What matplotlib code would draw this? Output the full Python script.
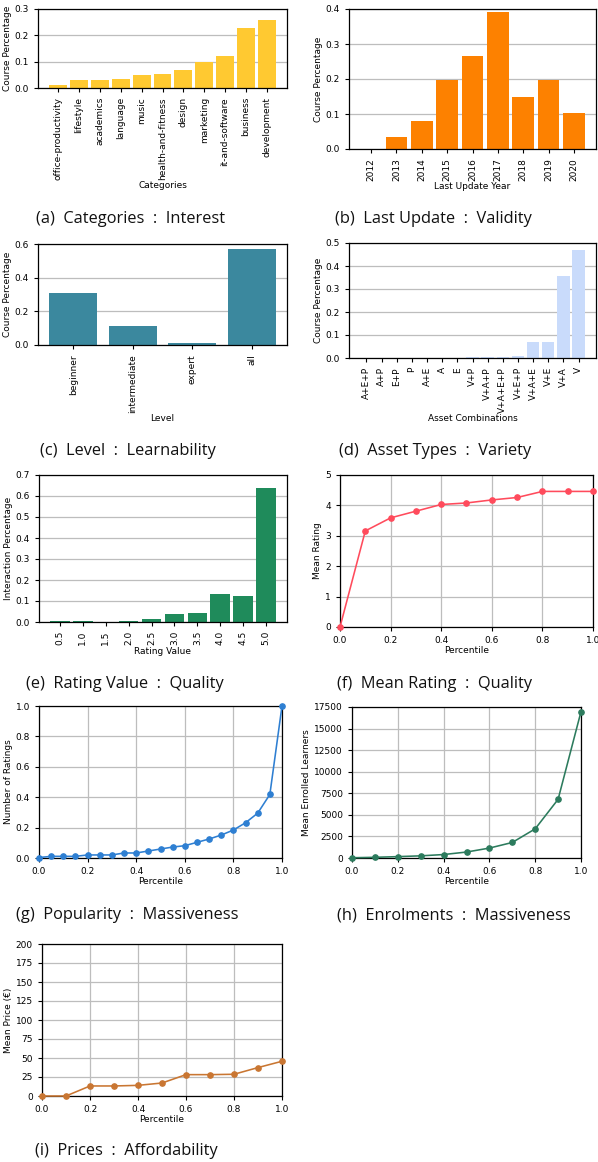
import numpy as np
import matplotlib
matplotlib.use("Agg")
import matplotlib.pyplot as plt

plt.rcParams["font.size"] = 6.5
plt.rcParams["axes.linewidth"] = 0.9
plt.rcParams["xtick.major.size"] = 3
plt.rcParams["ytick.major.size"] = 3
plt.rcParams["xtick.major.width"] = 0.8
plt.rcParams["ytick.major.width"] = 0.8
plt.rcParams["grid.color"] = "#bdbdbd"
plt.rcParams["grid.linewidth"] = 0.9

# (a) course categories
categories = ["office-productivity", "lifestyle", "academics", "language", "music",
              "health-and-fitness", "design", "marketing", "it-and-software",
              "business", "development"]
category_share = [0.013, 0.032, 0.032, 0.035, 0.051, 0.054, 0.070, 0.099, 0.123, 0.229, 0.259]

# (b) last update year
years = ["2012", "2013", "2014", "2015", "2016", "2017", "2018", "2019", "2020"]
year_share = [0.0, 0.033, 0.081, 0.198, 0.266, 0.391, 0.149, 0.198, 0.104]

# (c) level
levels = ["beginner", "intermediate", "expert", "all"]
level_share = [0.310, 0.114, 0.012, 0.570]

# (d) asset combinations
assets = ["A+E+P", "A+P", "E+P", "P", "A+E", "A", "E", "V+P", "V+A+P",
          "V+A+E+P", "V+E+P", "V+A+E", "V+E", "V+A", "V"]
asset_share = [0.0, 0.0, 0.0, 0.0005, 0.0005, 0.001, 0.001, 0.004, 0.004,
               0.005, 0.009, 0.070, 0.070, 0.358, 0.471]

# (e) rating values
ratings = ["0.5", "1.0", "1.5", "2.0", "2.5", "3.0", "3.5", "4.0", "4.5", "5.0"]
rating_share = [0.006, 0.006, 0.002, 0.006, 0.013, 0.037, 0.041, 0.132, 0.122, 0.638]

# (f) mean rating per percentile
pct10 = [0.0, 0.1, 0.2, 0.3, 0.4, 0.5, 0.6, 0.7, 0.8, 0.9, 1.0]
mean_rating = [0.0, 3.16, 3.59, 3.81, 4.03, 4.08, 4.18, 4.26, 4.46, 4.46, 4.46]

# (g) number of ratings (normalised) per percentile
pct20 = [0.0, 0.05, 0.1, 0.15, 0.2, 0.25, 0.3, 0.35, 0.4, 0.45, 0.5,
         0.55, 0.6, 0.65, 0.7, 0.75, 0.8, 0.85, 0.9, 0.95, 1.0]
num_ratings = [0.003, 0.011, 0.011, 0.011, 0.020, 0.020, 0.020, 0.033, 0.033, 0.046,
               0.059, 0.072, 0.081, 0.103, 0.125, 0.151, 0.184, 0.232, 0.295, 0.418, 1.0]

# (h) mean enrolled learners per percentile
enrolled = [30, 80, 160, 250, 400, 690, 1150, 1800, 3380, 6800, 16960]

# (i) mean price per percentile
price = [0.0, 0.0, 13.2, 13.2, 14.0, 17.1, 28.1, 28.1, 28.6, 37.4, 45.7]

W, H = 598, 1162
fig = plt.figure(figsize=(W / 100, H / 100), dpi=100)


def add_ax(left, top, right, bottom):
    return fig.add_axes([left / W, 1 - bottom / H, (right - left) / W, (bottom - top) / H])


def bar_panel(ax, labels, values, color, xlabel, ylabel, ymax, width=0.85):
    x = np.arange(len(labels))
    ax.bar(x, values, width=width, color=color, zorder=2)
    ax.set_xticks(x)
    ax.set_xticklabels(labels, rotation=90)
    ax.set_ylim(0, ymax)
    ax.yaxis.grid(True, zorder=0)
    ax.set_axisbelow(True)
    ax.set_xlabel(xlabel, labelpad=1)
    ax.set_ylabel(ylabel, labelpad=2)


def line_panel(ax, x, y, color, ylabel, ylim, yticks):
    ax.plot(x, y, color=color, marker="o", markersize=3.8, linewidth=1.15, zorder=3,
            clip_on=False)
    ax.set_xlim(0, 1)
    ax.set_ylim(*ylim)
    ax.set_yticks(yticks)
    ax.set_xticks([0, 0.2, 0.4, 0.6, 0.8, 1.0])
    ax.grid(True, zorder=0)
    ax.set_axisbelow(True)
    ax.set_xlabel("Percentile", labelpad=1)
    ax.set_ylabel(ylabel, labelpad=2)


ax = add_ax(38, 9, 287, 88)
bar_panel(ax, categories, category_share, "#FFC931", "Categories", "Course Percentage", 0.3)
ax.set_yticks([0.0, 0.1, 0.2, 0.3])

ax = add_ax(349, 9, 596, 149)
bar_panel(ax, years, year_share, "#FD8100", "Last Update Year", "Course Percentage", 0.4)
ax.set_yticks([0.0, 0.1, 0.2, 0.3, 0.4])

ax = add_ax(38, 244, 287, 345)
bar_panel(ax, levels, level_share, "#3B889E", "Level", "Course Percentage", 0.6, width=0.8)
ax.set_yticks([0.0, 0.2, 0.4, 0.6])

ax = add_ax(349, 243, 596, 358)
bar_panel(ax, assets, asset_share, "#C9DBFB", "Asset Combinations", "Course Percentage", 0.5, width=0.82)
ax.set_yticks([0.0, 0.1, 0.2, 0.3, 0.4, 0.5])

ax = add_ax(39, 475, 287, 622)
bar_panel(ax, ratings, rating_share, "#1F8B5B", "Rating Value", "Interaction Percentage", 0.7)
ax.set_yticks(np.arange(0, 0.71, 0.1))

ax = add_ax(340, 475, 593, 627)
line_panel(ax, pct10, mean_rating, "#FF4B5C", "Mean Rating", (0, 5), range(0, 6))

ax = add_ax(39, 706, 282, 858)
line_panel(ax, pct20, num_ratings, "#2E7FD2", "Number of Ratings", (0, 1), np.arange(0, 1.01, 0.2))

ax = add_ax(352, 707, 581, 858)
line_panel(ax, pct10, enrolled, "#2C7B5D", "Mean Enrolled Learners", (0, 17500),
           np.arange(0, 17501, 2500))

ax = add_ax(42, 944, 282, 1096)
line_panel(ax, pct10, price, "#C97632", "Mean Price (\u20ac)", (0, 200), np.arange(0, 201, 25))

captions = [
    (36, 219, "(a)  Categories  :  Interest"),
    (335, 219, "(b)  Last Update  :  Validity"),
    (40, 451, "(c)  Level  :  Learnability"),
    (339, 451, "(d)  Asset Types  :  Variety"),
    (26, 684, "(e)  Rating Value  :  Quality"),
    (337, 684, "(f)  Mean Rating  :  Quality"),
    (16, 915, "(g)  Popularity  :  Massiveness"),
    (337, 915, "(h)  Enrolments  :  Massiveness"),
    (35, 1151, "(i)  Prices  :  Affordability"),
]
for x, y, text in captions:
    fig.text(x / W, 1 - y / H, text, ha="left", va="center", fontsize=11.8,
             family=["Open Sans", "DejaVu Sans"], color="#111111")

fig.savefig("out.png", dpi=100)
